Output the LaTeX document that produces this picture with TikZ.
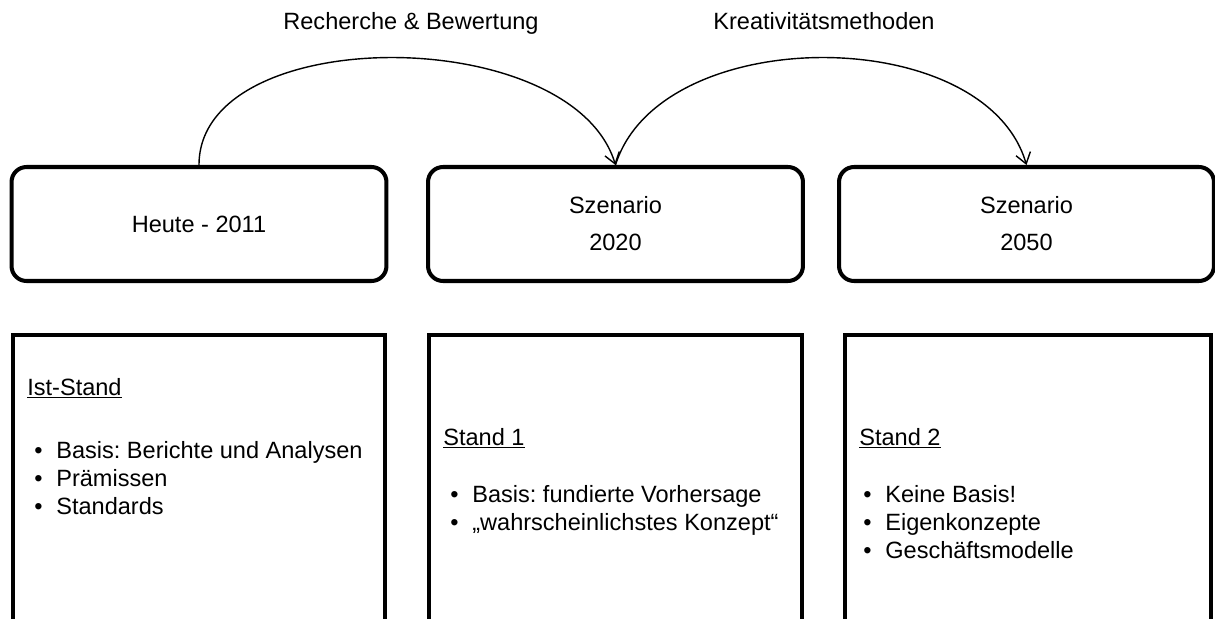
\documentclass[tikz,border=0pt]{standalone}
\usepackage{fontspec}
\setmainfont{Liberation Sans}
\usetikzlibrary{arrows.meta,positioning}
\frenchspacing

\tikzset{
	stage/.style={draw, line width=2.3pt, rounded corners=0.3cm, minimum width=7.5cm,
		minimum height=2.28cm, align=center, font=\fontsize{13.4pt}{21pt}\selectfont},
	statebox/.style={draw, line width=2.3pt, minimum height=6cm},
	item/.style={anchor=base west, inner sep=0pt, font=\fontsize{13.4pt}{16pt}\selectfont},
	flow/.style={line width=0.8pt, -{Straight Barb[length=6pt,width=8.5pt]}},
}
\newcommand{\bul}{\makebox[0.44cm][l]{\textbullet}}

\begin{document}
\begin{tikzpicture}[x=0.02cm,y=-0.02cm]
		\useasboundingbox (0,0) rectangle (1215,619);

		% stages on top
		\node[stage] (heute) at (199,224) {Heute - 2011};
		\node[stage] (sz2020) at (615.5,224) {Szenario\\2020};
		\node[stage] (sz2050) at (1026.5,224) {Szenario\\2050};

		% arcs between the stages
		\draw[flow] (heute.north) .. controls (199,22) and (572,22) .. (sz2020.north);
		\draw[flow] (sz2020.north) .. controls (660,22) and (985,22) .. (sz2050.north);
		\node[item, anchor=base] (recherche) at (411,29) {Recherche \& Bewertung};
		\node[item, anchor=base] (kreativ) at (824,29) {Kreativitätsmethoden};

		% boxes below
		\node[statebox, minimum width=7.44cm] (ist) at (199,485) {};
		\node[statebox, minimum width=7.46cm] (stand1) at (615.5,485) {};
		\node[statebox, minimum width=7.32cm] (stand2) at (1028,485) {};

		\node[item] (ist-t) at (27,395) {\underline{Ist-Stand}};
		\foreach \txt [count=\i] in {Basis: Berichte und Analysen, Prämissen, Standards}
			\node[item] (ist-\i) at (34,{458+28*(\i-1)}) {\bul\txt};

		\node[item] (stand1-t) at (443,445) {\underline{Stand 1}};
		\foreach \txt [count=\i] in {Basis: fundierte Vorhersage, „wahrscheinlichstes Konzept“}
			\node[item] (stand1-\i) at (450,{502+28*(\i-1)}) {\bul\txt};

		\node[item] (stand2-t) at (859,445) {\underline{Stand 2}};
		\foreach \txt [count=\i] in {Keine Basis!, Eigenkonzepte, Geschäftsmodelle}
			\node[item] (stand2-\i) at (863,{502+28*(\i-1)}) {\bul\txt};
	\end{tikzpicture}
\end{document}
